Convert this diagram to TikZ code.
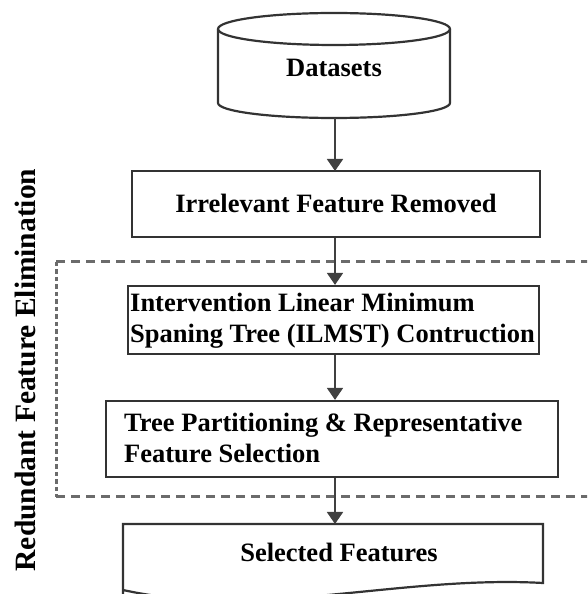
\documentclass[tikz,border=0pt]{standalone}
\usepackage{fontspec}
\setmainfont{Liberation Serif}
\usetikzlibrary{arrows.meta}
\begin{document}
\begin{tikzpicture}[x=1pt,y=1pt,
  boxline/.style={draw=black!80, line width=2.2pt},
  flowbox/.style={boxline, inner sep=0pt},
  flow/.style={draw=black!75, line width=1.8pt, -{Triangle[width=16pt,length=12pt]}},
  txt/.style={font=\fontsize{26.5}{31}\selectfont\bfseries, inner sep=0pt},
  dashh/.style={draw=black!58, line width=3pt, dash pattern=on 9pt off 6pt},
  dashv/.style={draw=black!58, line width=3pt, dash pattern=on 4.5pt off 3pt},
]
\useasboundingbox (0,0) rectangle (587,594);
\clip (0,0) rectangle (587,594);

% dataset cylinder
\draw[boxline] (218,565) -- (218,491)
  arc[start angle=180, end angle=360, x radius=116pt, y radius=15pt] -- (450,565);
\draw[boxline] (334,565) ellipse [x radius=116pt, y radius=16pt];
\node[inner sep=0pt, minimum width=232pt, minimum height=105pt] (data) at (334,528.5) {};
\node[txt, anchor=base] (datatxt) at (334,517) {Datasets};

% irrelevant feature removal
\node[flowbox, minimum width=408pt, minimum height=66pt] (irr) at (336,390) {};
\node[txt, anchor=base] (irrtxt) at (336,381) {Irrelevant Feature Removed};

% ILMST construction
\node[flowbox, minimum width=411pt, minimum height=68pt] (ilm) at (333.5,274) {};
\node[txt, anchor=base west] (ilm1) at (130,282) {Intervention Linear Minimum};
\node[txt, anchor=base west] (ilm2) at (130,251) {Spaning Tree (ILMST) Contruction};

% tree partitioning
\node[flowbox, minimum width=452pt, minimum height=76pt] (tp) at (332,155) {};
\node[txt, anchor=base west] (tp1) at (124,162) {Tree Partitioning \& Representative};
\node[txt, anchor=base west] (tp2) at (124,131) {Feature Selection};

% selected features (document shape)
\draw[boxline] (123,-20) -- (123,70) -- (543,70) -- (543,11)
  .. controls (400,19) and (260,-26) .. (123,4);
\coordinate (sel) at (335,70);
\node[txt, anchor=base] (seltxt) at (339,32) {Selected Features};

% redundant feature elimination group
\coordinate (g1) at (56,332);
\coordinate (g2) at (56,97);
\draw[dashh] (g1) -- (600,332);
\draw[dashh] (g2) -- (600,97);
\draw[dashv] (g1) -- (g2);
\node[rotate=90, font=\fontsize{29.5}{32}\selectfont\bfseries, inner sep=0pt] (grp) at (25.5,224) {Redundant Feature Elimination};

% connectors
\draw[flow] (data.south -| 335,0) -- (335,423);
\draw[flow] (irr.south -| 335,0) -- (ilm.north -| 335,0);
\draw[flow] (ilm.south -| 335,0) -- (tp.north -| 335,0);
\draw[flow] (tp.south -| 335,0) -- (sel);
\end{tikzpicture}
\end{document}
